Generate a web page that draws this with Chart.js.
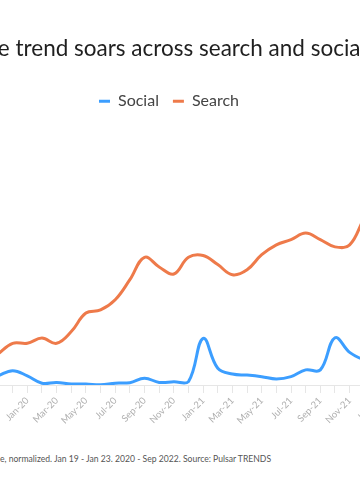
<!DOCTYPE html>
<html><head><meta charset="utf-8">
<script src="https://cdn.jsdelivr.net/npm/chart.js@4"></script>
<style>
html,body{margin:0;padding:0;width:360px;height:500px;overflow:hidden;background:#fff;position:relative}
#wrap{position:absolute;left:-51px;top:0;width:440px;height:425px}
#foot{position:absolute;left:0;top:454px;font:8.6px Lato,sans-serif;color:#555;white-space:nowrap}
#foot span{position:absolute;right:100%;top:0}
</style></head><body>
<div id="wrap"><canvas id="c"></canvas></div>
<div id="foot"><span>Social and search volum</span>e, normalized. Jan 19 - Jan 23. 2020 - Sep 2022. Source: Pulsar TRENDS</div>
<script>
const months = ['Nov-19','Dec-19','Jan-20','Feb-20','Mar-20','Apr-20','May-20','Jun-20','Jul-20','Aug-20','Sep-20','Oct-20','Nov-20','Dec-20','Jan-21','Feb-21','Mar-21','Apr-21','May-21','Jun-21','Jul-21','Aug-21','Sep-21','Oct-21','Nov-21','Dec-21','Jan-22'];
const social = [3.5,5.5,3.5,0.7,1.0,0.4,0.4,0.1,0.7,0.9,2.6,1.0,1.2,1.3,17.9,6.4,4.2,3.8,3.2,2.3,3.2,5.8,5.8,18.1,12.5,9.6,8.0];
const search = [11.9,16.0,16.0,18.0,16.0,20.5,27.6,28.8,32.7,40.4,49.0,45.3,42.6,49.0,49.7,46.2,42.3,44.2,50.0,53.8,55.8,58.3,55.8,53.0,53.8,64.0,72.0];
const titleText = 'The trend soars across search and social';
const yMin = 0, yMax = 102;

const chart = new Chart(document.getElementById('c'), {
  type: 'line',
  data: {
    labels: months,
    datasets: [
      {label:'Social', data: social, borderColor:'#3C9EFF', backgroundColor:'#3C9EFF', borderWidth:3, pointRadius:0, tension:0.4, fill:false, borderCapStyle:'round'},
      {label:'Search', data: search, borderColor:'#EE7A4A', backgroundColor:'#EE7A4A', borderWidth:3, pointRadius:0, tension:0.4, fill:false, borderCapStyle:'round'}
    ]
  },
  options: {
    responsive: true, maintainAspectRatio: false, animation: false,
    layout: {padding: 0},
    plugins: {
      title: {display:true, text:titleText, color:'#1f1f1f', font:{family:'Lato', size:22.5, weight:'normal'}, padding:{top:35, bottom:17.2}},
      legend: {display:true, labels:{usePointStyle:true, pointStyle:'line', pointStyleWidth:11, color:'#444', font:{family:'Lato', size:16}, padding:14}},
      tooltip: {enabled:false}
    },
    scales: {
      x: {
        grid: {display:true, drawOnChartArea:false, drawTicks:true, tickLength:8, color:'#e6e6e6'},
        border: {display:true, color:'#e6e6e6'},
        ticks: {color:'#b0b0b0', font:{family:'Lato', size:9.5}, maxRotation:45, minRotation:45, autoSkip:false, padding:2,
          callback: (v, i) => i % 2 === 0 ? months[i] : ''},
        afterFit: s => { s.height = 40; }
      },
      y: {
        min: yMin, max: yMax,
        grid: {display:false}, border: {display:false}, ticks: {display:false},
        afterFit: s => { s.width = 49; }
      }
    }
  }
});
</script>
</body></html>
